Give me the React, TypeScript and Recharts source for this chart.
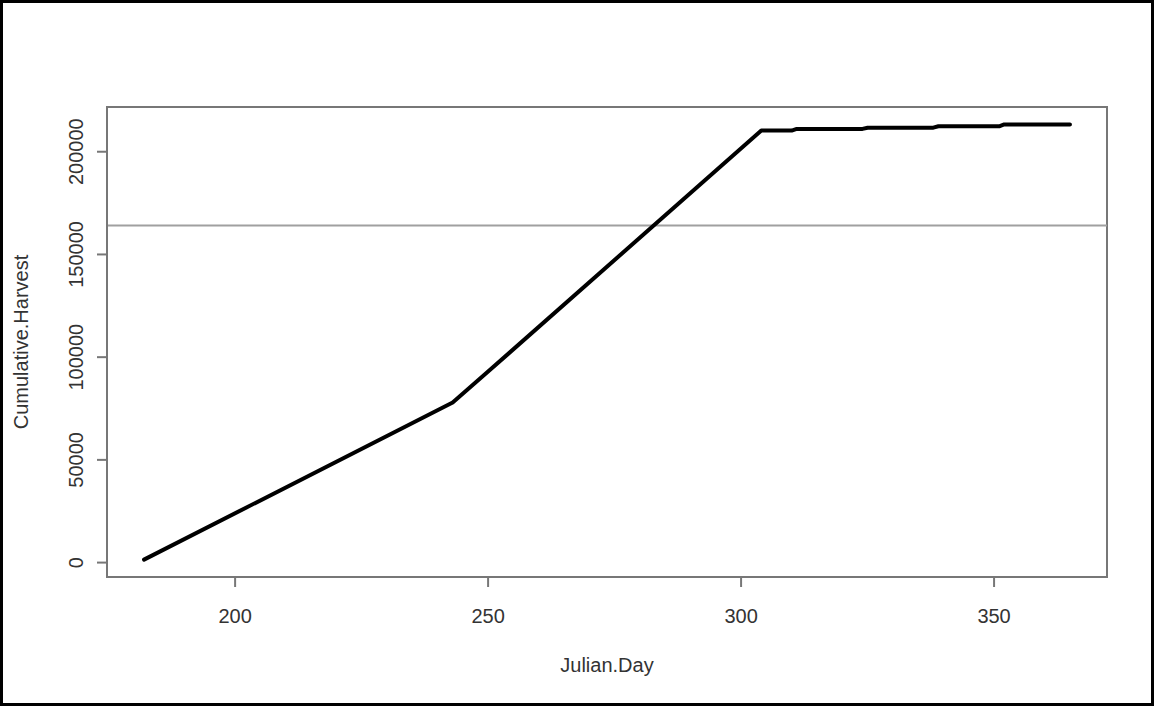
import React from 'react';
import {
    LineChart, Line, XAxis, YAxis, ReferenceLine, ReferenceArea, Label
} from 'recharts';

// cumulative harvest by julian day
const julianDay = [182, 243, 250, 304, 310, 311, 324, 325, 338, 339, 351, 352, 365];
const cumulativeHarvest = [1460, 77900, 93000, 210300, 210300, 211100, 211100, 211700, 211700, 212400, 212400, 213300, 213300];

const xTicks = [200, 250, 300, 350];
const yTicks = [0, 50000, 100000, 150000, 200000];
const targetHarvest = 164100;

const data = julianDay.map((d, i) => ({ day: d, harvest: cumulativeHarvest[i] }));

// R-style 4% padding around the data range
const pad = (vals: number[]): [number, number] => {
    const lo = Math.min(...vals);
    const hi = Math.max(...vals);
    const r = (hi - lo) * 0.04;
    return [lo - r, hi + r];
};
const xDomain = pad(julianDay);
const yDomain = pad(cumulativeHarvest);

const FONT = '"Liberation Sans", Arial, sans-serif';
const TEXT = '#333';
const BOX = '#777';

const XTick = (props: any) => {
    const { x, y, payload } = props;
    return (
        <text x={x} y={y + 34} textAnchor="middle" fontFamily={FONT} fontSize={20} fill={TEXT}>
            {payload.value}
        </text>
    );
};

const YTick = (props: any) => {
    const { x, y, payload } = props;
    const bx = x - 12;
    return (
        <text x={bx} y={y} transform={`rotate(-90, ${bx}, ${y})`} textAnchor="middle"
            fontFamily={FONT} fontSize={20} fill={TEXT}>
            {payload.value}
        </text>
    );
};

const App: React.FC = () => {
    return (
        <div style={{ position: 'absolute', left: 0, top: 0, width: 1154, height: 706, background: '#fff' }}>
            <LineChart width={1154} height={706} data={data}
                margin={{ top: 107, right: 47, left: 0, bottom: 0 }}>
                <XAxis
                    dataKey="day"
                    type="number"
                    domain={xDomain}
                    ticks={xTicks}
                    allowDataOverflow
                    height={129}
                    tickSize={10}
                    axisLine={{ stroke: BOX, strokeWidth: 2 }}
                    tickLine={{ stroke: BOX, strokeWidth: 2 }}
                    tick={<XTick />}
                >
                    <Label content={(p: any) => {
                        const vb = p.viewBox;
                        return (
                            <text x={vb.x + vb.width / 2} y={vb.y + 95} textAnchor="middle"
                                fontFamily={FONT} fontSize={20} fill={TEXT}>Julian.Day</text>
                        );
                    }} />
                </XAxis>
                <YAxis
                    type="number"
                    domain={yDomain}
                    ticks={yTicks}
                    allowDataOverflow
                    width={107}
                    tickSize={10}
                    axisLine={{ stroke: BOX, strokeWidth: 2 }}
                    tickLine={{ stroke: BOX, strokeWidth: 2 }}
                    tick={<YTick />}
                >
                    <Label content={(p: any) => {
                        const vb = p.viewBox;
                        const cx = 28;
                        const cy = vb.y + vb.height / 2;
                        return (
                            <text x={cx} y={cy} transform={`rotate(-90, ${cx}, ${cy})`} textAnchor="middle"
                                fontFamily={FONT} fontSize={20} fill={TEXT}>Cumulative.Harvest</text>
                        );
                    }} />
                </YAxis>
                <ReferenceArea x1={xDomain[0]} x2={xDomain[1]} y1={yDomain[0]} y2={yDomain[1]}
                    fill="none" stroke={BOX} strokeWidth={2} />
                <ReferenceLine y={targetHarvest} stroke="#a0a0a0" strokeWidth={2} />
                <Line type="linear" dataKey="harvest" stroke="#000" strokeWidth={4}
                    dot={false} activeDot={false} strokeLinecap="round" strokeLinejoin="round"
                    isAnimationActive={false} />
            </LineChart>
            <div style={{
                position: 'absolute', left: 0, top: 0, width: 1154, height: 706,
                border: '3px solid #000', boxSizing: 'border-box', pointerEvents: 'none'
            }} />
        </div>
    );
};

export default App;
